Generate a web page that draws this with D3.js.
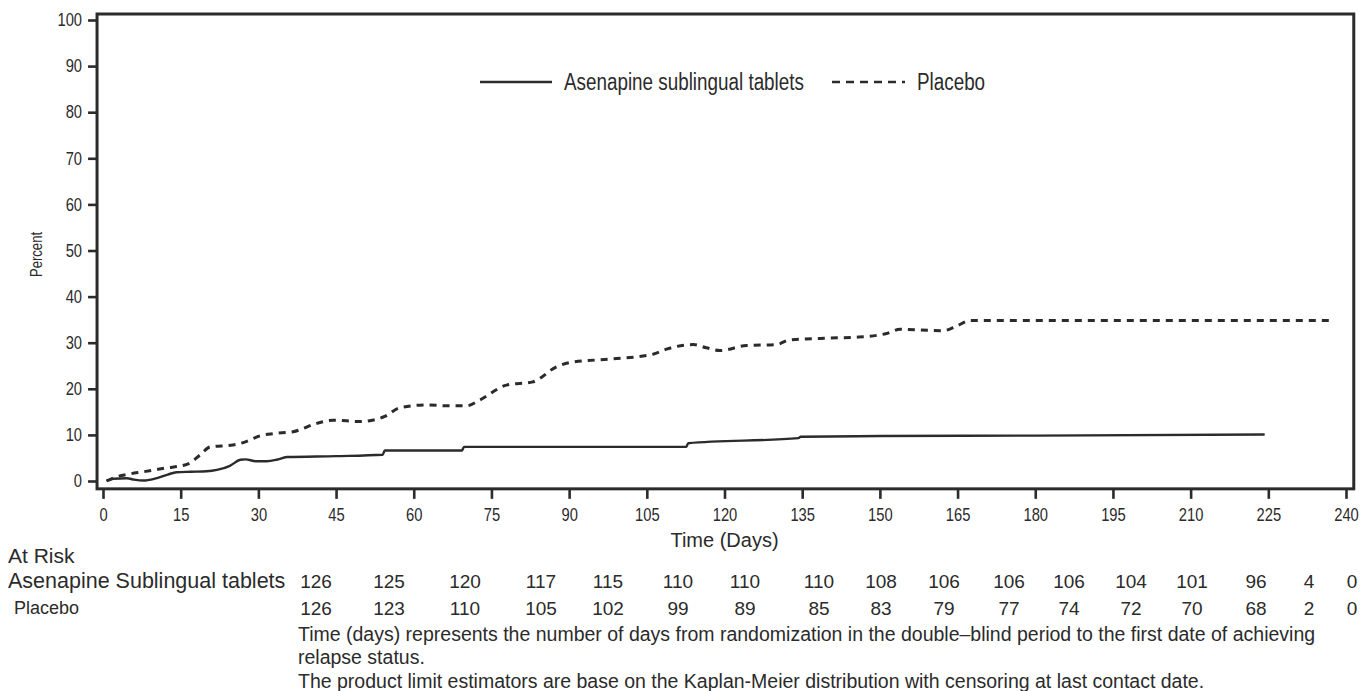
<!DOCTYPE html>
<html>
<head>
<meta charset="utf-8">
<script src="https://cdn.jsdelivr.net/npm/d3@7"></script>
<style>
  html, body { margin: 0; padding: 0; background: #fff; }
  svg { display: block; }
</style>
</head>
<body>
<svg id="chart" width="1362" height="691"></svg>
<script>
// ---------------- DATA ----------------
const xTicks = [0, 15, 30, 45, 60, 75, 90, 105, 120, 135, 150, 165, 180, 195, 210, 225, 240];
const yTicks = [0, 10, 20, 30, 40, 50, 60, 70, 80, 90, 100];

// Asenapine (solid) cumulative relapse percent: day / percent
const asenapineDays = [0.7, 2, 4.6, 6, 7.8, 10, 12.5, 14.2, 17, 20, 22, 24.5, 26.5, 27.5, 29.5, 31.6, 33.5, 35.5, 45, 54, 54.4, 69.3, 69.7, 112.6, 113, 134.3, 134.7, 150, 180, 224.3];
const asenapinePct  = [0, 0.5, 0.6, 0.3, 0.1, 0.5, 1.4, 1.9, 2.0, 2.1, 2.4, 3.3, 4.6, 4.7, 4.3, 4.3, 4.6, 5.2, 5.4, 5.7, 6.6, 6.6, 7.4, 7.4, 8.2, 9.3, 9.6, 9.75, 9.85, 10.1];

// Placebo (dashed)
const placeboDays = [0.7, 2.6, 5, 7.8, 12, 16.2, 18.7, 20.7, 25.1, 27.5, 30.3, 33, 36.7, 41.3, 44.4, 49.6, 52.5, 54.4, 57.3, 62.5, 67, 70.2, 72.8, 77.9, 83, 87.6, 90.2, 98.5, 106.2, 108.8, 114, 116.5, 119.1, 124.3, 130, 132.6, 140.3, 145.5, 151.3, 153.9, 162.2, 164.8, 167.4, 236.9];
const placeboPct  = [0, 0.9, 1.5, 2.0, 2.8, 3.6, 5.6, 7.4, 7.8, 8.5, 9.8, 10.3, 10.7, 12.5, 13.2, 12.9, 13.3, 14.0, 15.9, 16.5, 16.3, 16.3, 17.6, 20.8, 21.5, 24.8, 25.7, 26.5, 27.5, 28.6, 29.6, 28.9, 28.3, 29.4, 29.6, 30.6, 31.0, 31.2, 32.0, 32.9, 32.6, 33.6, 34.8, 34.8];

const legendLabels = ["Asenapine sublingual tablets", "Placebo"];
const riskRowLabels = ["Asenapine Sublingual tablets", "Placebo"];
const riskAsenapine = [126, 125, 120, 117, 115, 110, 110, 110, 108, 106, 106, 106, 104, 101, 96, 4, 0];
const riskPlacebo   = [126, 123, 110, 105, 102, 99, 89, 85, 83, 79, 77, 74, 72, 70, 68, 2, 0];
const footnotes = [
  "Time (days) represents the number of days from randomization in the double\u2013blind period to the first date of achieving",
  "relapse status.",
  "The product limit estimators are base on the Kaplan-Meier distribution with censoring at last contact date."
];

// ---------------- LAYOUT ----------------
const riskColX = [316, 389, 465, 541, 608, 678, 745, 819, 881, 944, 1009, 1069, 1131, 1192, 1256, 1309, 1352];
const ink = "#2b2b2b";
const font = "'Liberation Sans', Arial, sans-serif";
const squeeze = 0.82; // emulate a narrow face

const svg = d3.select("#chart");
svg.append("rect").attr("width", 1362).attr("height", 691).attr("fill", "#fff");

const x = d3.scaleLinear().domain([0, 240]).range([103, 1346]);
const y = d3.scaleLinear().domain([0, 100]).range([481, 20]);
const frame = { x0: x(-1.15), x1: x(241.5), y0: y(101.3), y1: y(-1.7) };

// Axes
const yTickSize = 9, yPad = 6;
const gy = svg.append("g").attr("transform", `translate(${frame.x0},0)`)
  .call(d3.axisLeft(y).tickValues(yTicks).tickSize(yTickSize).tickPadding(yPad));
const gx = svg.append("g").attr("transform", `translate(0,${frame.y1})`)
  .call(d3.axisBottom(x).tickValues(xTicks).tickSize(10).tickPadding(9));
[gx, gy].forEach(g => {
  g.select(".domain").remove();
  g.selectAll(".tick line").attr("stroke", ink).attr("stroke-width", 2.6);
  g.selectAll(".tick text").attr("fill", ink).style("font-family", font).style("font-size", "18px");
});
gy.selectAll(".tick text").attr("x", -(yTickSize + yPad) / squeeze).attr("transform", `scale(${squeeze},1)`);
gx.selectAll(".tick text").attr("transform", `scale(${squeeze},1)`);

// Frame
svg.append("rect")
  .attr("x", frame.x0).attr("y", frame.y0)
  .attr("width", frame.x1 - frame.x0).attr("height", frame.y1 - frame.y0)
  .attr("fill", "none").attr("stroke", ink).attr("stroke-width", 3);

// Lines
const line = d3.line().x(d => x(d[0])).y(d => y(d[1])).curve(d3.curveMonotoneX);
const asenapine = asenapineDays.map((d, i) => [d, asenapinePct[i]]);
const placebo = placeboDays.map((d, i) => [d, placeboPct[i]]);

svg.append("path").datum(asenapine).attr("d", line)
  .attr("fill", "none").attr("stroke", ink).attr("stroke-width", 2.4);
svg.append("path").datum(placebo).attr("d", line)
  .attr("fill", "none").attr("stroke", ink).attr("stroke-width", 3)
  .attr("stroke-dasharray", "7,6");

// Legend
const lg = svg.append("g");
lg.append("line").attr("x1", 480).attr("x2", 552).attr("y1", 82).attr("y2", 82)
  .attr("stroke", ink).attr("stroke-width", 2.4);
lg.append("text").attr("transform", `translate(564,90) scale(${squeeze},1)`).text(legendLabels[0])
  .attr("fill", ink).style("font-family", font).style("font-size", "23px");
lg.append("line").attr("x1", 832).attr("x2", 905).attr("y1", 82).attr("y2", 82)
  .attr("stroke", ink).attr("stroke-width", 2.4).attr("stroke-dasharray", "8,6");
lg.append("text").attr("transform", `translate(917,90) scale(${squeeze},1)`).text(legendLabels[1])
  .attr("fill", ink).style("font-family", font).style("font-size", "23px");

// Axis titles
svg.append("text").attr("transform", `translate(42,${(y(100) + y(0)) / 2 + 4}) rotate(-90) scale(${squeeze},1)`)
  .attr("text-anchor", "middle").text("Percent")
  .attr("fill", ink).style("font-family", font).style("font-size", "16px");
svg.append("text").attr("x", x(120)).attr("y", 547).attr("text-anchor", "middle")
  .text("Time (Days)").attr("fill", ink).style("font-family", font).style("font-size", "20px");

// At-risk table
const tg = svg.append("g").attr("fill", ink).style("font-family", font).style("font-size", "19px");
tg.append("text").attr("x", 8).attr("y", 563).text("At Risk").style("font-size", "21px");
tg.append("text").attr("x", 8).attr("y", 588).text(riskRowLabels[0]).style("font-size", "21.5px");
tg.append("text").attr("x", 14).attr("y", 614).text(riskRowLabels[1]).style("font-size", "18px");
[riskAsenapine, riskPlacebo].forEach((row, r) => {
  tg.selectAll(null).data(row).enter().append("text")
    .attr("x", (d, i) => riskColX[i]).attr("y", r === 0 ? 588 : 615)
    .attr("text-anchor", "middle").text(d => d);
});

// Footnotes
const fy = [641, 664, 688];
footnotes.forEach((t, i) => {
  svg.append("text").attr("x", 298).attr("y", fy[i]).text(t)
    .attr("fill", ink).style("font-family", font).style("font-size", "19.5px");
});
</script>
</body>
</html>
